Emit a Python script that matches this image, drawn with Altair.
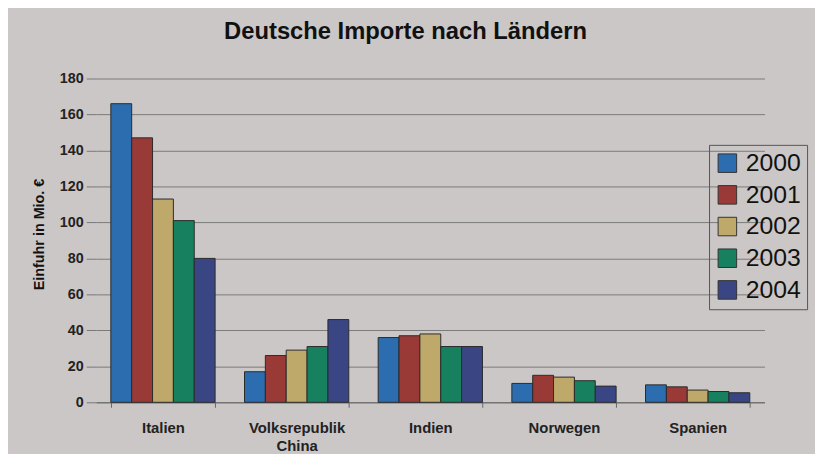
import altair as alt
import pandas as pd

countries = ["Italien", "Volksrepublik China", "Indien", "Norwegen", "Spanien"]
years = ["2000", "2001", "2002", "2003", "2004"]
values = {
    "2000": [166, 17, 36, 10.5, 9.7],
    "2001": [147, 26, 37, 15, 8.6],
    "2002": [113, 29, 38, 14, 6.8],
    "2003": [101, 31, 31, 12, 6],
    "2004": [80, 46, 31, 9, 5.3],
}
colors = ["#2c6db0", "#9a3a37", "#bfa96a", "#17805e", "#3a4683"]

rows = []
for y in years:
    for c, v in zip(countries, values[y]):
        rows.append({"Land": c, "Jahr": y, "Wert": v})
df = pd.DataFrame(rows)

font = "Liberation Sans"

chart = alt.Chart(df).mark_bar(stroke="#2a2a2a", strokeWidth=1).encode(
    x=alt.X("Land:N", sort=countries,
            scale=alt.Scale(paddingInner=0.22, paddingOuter=0.11),
            axis=alt.Axis(title=None, labelAngle=0, tickBand="extent",
                          labelExpr="datum.value == 'Volksrepublik China' ? ['Volksrepublik', 'China'] : datum.value",
                          labelFont=font, labelFontSize=15, labelFontWeight="bold",
                          labelColor="#222222", labelPadding=13, labelLineHeight=19,
                          domainColor="#666666", tickColor="#666666", tickSize=5,
                          grid=False)),
    xOffset=alt.XOffset("Jahr:N", sort=years),
    y=alt.Y("Wert:Q", scale=alt.Scale(domain=[0, 180]),
            axis=alt.Axis(title="Einfuhr in Mio. €", values=list(range(0, 181, 20)),
                          titleFont=font, titleFontSize=14.5, titleFontWeight="bold",
                          titleColor="#111111", titlePadding=13, titleY=157,
                          labelFont=font, labelFontSize=14.5, labelFontWeight="bold",
                          labelColor="#222222", labelPadding=3,
                          tickSize=10, tickColor="#777777", domain=False,
                          grid=True, gridColor="#7a7a7a", gridWidth=1)),
    color=alt.Color("Jahr:N", sort=years,
                    scale=alt.Scale(domain=years, range=colors),
                    legend=alt.Legend(title=None, orient="none", legendX=619, legendY=67,
                                      symbolType="square", symbolSize=350,
                                      symbolStrokeColor="#333333", symbolStrokeWidth=1,
                                      labelFont=font, labelFontSize=25, labelColor="#111111",
                                      labelOffset=6, rowPadding=6, padding=6,
                                      strokeColor="#555555")),
).properties(
    width=675, height=327,
    title=alt.TitleParams("Deutsche Importe nach Ländern", font=font, fontSize=24,
                          fontWeight="bold", color="#111111", anchor="middle",
                          dx=-25, offset=27),
    background="#cbc7c6",
    autosize=alt.AutoSizeParams(type="none"),
    padding={"left": 89, "top": 69, "right": 51, "bottom": 50},
).configure_view(stroke=None)

chart.save("out.html", embed_options={"renderer": "svg", "actions": False})
